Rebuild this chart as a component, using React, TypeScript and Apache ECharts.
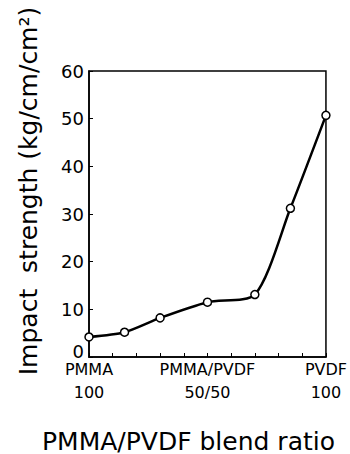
import React, { useEffect, useRef } from "react";
import * as echarts from "echarts";

const blendPVDF = [0, 15, 30, 50, 70, 85, 100];
const impactStrength = [4.2, 5.2, 8.2, 11.5, 13.1, 31.2, 50.7];
const yTicks = [0, 10, 20, 30, 40, 50, 60];
const xLabelTop: Record<number, string> = { 0: "PMMA", 50: "PMMA/PVDF", 100: "PVDF" };
const xLabelBottom: Record<number, string> = { 0: "100", 50: "50/50", 100: "100" };

const FONT = "DejaVu Sans";

export default function App() {
  const ref = useRef<HTMLDivElement>(null);
  useEffect(() => {
    document.body.style.margin = "0";
    const chart = echarts.init(ref.current!, null, { renderer: "svg" });
    chart.setOption({
      animation: false,
      backgroundColor: "#fff",
      grid: {
        left: 89,
        right: 22,
        top: 71,
        bottom: 97,
        show: true,
        borderColor: "#000",
        borderWidth: 1.5,
        backgroundColor: "transparent",
      },
      xAxis: {
        type: "value",
        min: 0,
        max: 100,
        interval: 10,
        axisLine: { show: true, lineStyle: { color: "#000", width: 1.5 } },
        axisTick: { show: true, inside: true, length: 4, lineStyle: { color: "#000", width: 1 } },
        splitLine: { show: false },
        axisLabel: {
          color: "#000",
          fontFamily: FONT,
          fontSize: 16,
          margin: 6,
          showMinLabel: true,
          showMaxLabel: true,
          formatter: (v: number) =>
            xLabelTop[v] ? `{a|${xLabelTop[v]}}\n{b|${xLabelBottom[v]}}` : "",
          rich: {
            a: { fontFamily: FONT, fontSize: 16, lineHeight: 12, color: "#000" },
            b: { fontFamily: FONT, fontSize: 16, lineHeight: 34, color: "#000" },
          },
        },
      },
      yAxis: {
        type: "value",
        min: yTicks[0],
        max: yTicks[yTicks.length - 1],
        interval: 10,
        axisLine: { show: true, lineStyle: { color: "#000", width: 1.5 } },
        axisTick: { show: true, inside: true, length: 4, lineStyle: { color: "#000", width: 1 } },
        splitLine: { show: false },
        axisLabel: {
          color: "#000",
          fontFamily: FONT,
          fontSize: 18,
          lineHeight: 9,
          margin: 5,
          formatter: (v: number) => (v === 0 ? "{z|0}" : String(v)),
          rich: {
            z: { fontFamily: FONT, fontSize: 18, lineHeight: 9, color: "#000", padding: [0, 0, 11, 0] },
          },
        },
      },
      series: [
        {
          type: "line",
          data: blendPVDF.map((x, i) => [x, impactStrength[i]]),
          smooth: 0.25,
          symbol: "circle",
          symbolSize: 8,
          lineStyle: { color: "#000", width: 2.5 },
          itemStyle: { color: "#fff", borderColor: "#000", borderWidth: 1.5 },
          z: 3,
        },
      ],
      graphic: [
        {
          type: "text",
          x: 28,
          y: 191,
          rotation: Math.PI / 2,
          style: {
            text: "Impact  strength (kg/cm/cm²)",
            font: `25px ${FONT}`,
            fill: "#000",
            textAlign: "center",
            textVerticalAlign: "middle",
          },
        },
        {
          type: "text",
          x: 42,
          y: 441,
          style: {
            text: "PMMA/PVDF blend ratio",
            font: `25px ${FONT}`,
            fill: "#000",
            textAlign: "left",
            textVerticalAlign: "middle",
          },
        },
      ],
    });
    return () => chart.dispose();
  }, []);
  return <div ref={ref} style={{ width: 350, height: 454 }} />;
}
